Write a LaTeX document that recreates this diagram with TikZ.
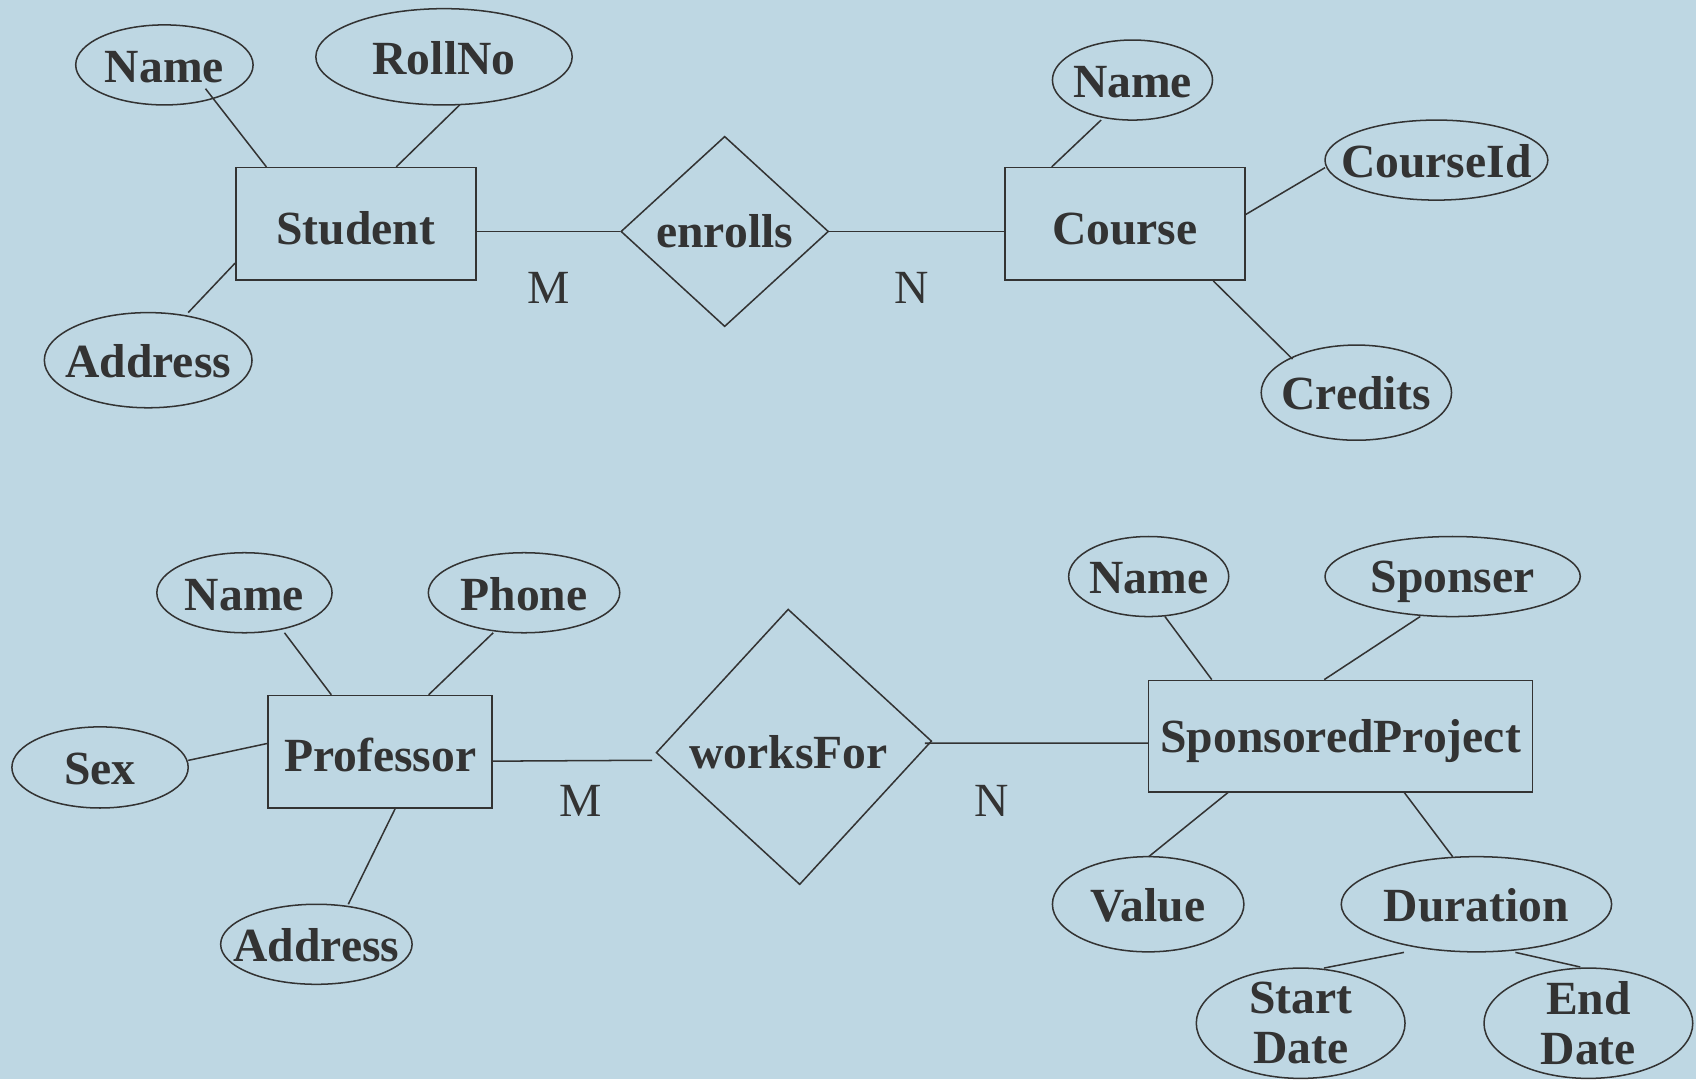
\documentclass[tikz,border=0pt]{standalone}
\usepackage{fontspec}
\setmainfont{Liberation Serif}
\usetikzlibrary{shapes.geometric,calc}
\definecolor{erbg}{RGB}{190,215,227}
\definecolor{erink}{RGB}{51,51,51}

\begin{document}
\begin{tikzpicture}[x=0.5pt,y=-0.5pt,
  every node/.style={text=erink,font=\fontsize{22}{23}\selectfont\bfseries},
  attr/.style={ellipse,draw=erink,line width=0.7pt,inner xsep=-60pt,inner ysep=-4pt,
    text height=16pt,text depth=0pt},
  attrtwo/.style={ellipse,draw=erink,line width=0.7pt,inner xsep=-60pt,inner ysep=-4pt,align=center},
  ent/.style={rectangle,draw=erink,line width=0.7pt,inner sep=0pt,text height=19pt,text depth=0pt},
  rel/.style={diamond,draw=erink,line width=0.7pt,inner sep=0pt},
  card/.style={font=\fontsize{22}{23}\selectfont},
  link/.style={draw=erink,line width=0.7pt}]
   \fill[erbg] (0,0) rectangle (1568,998);
   \useasboundingbox (0,0) rectangle (1568,998);

   % student -- enrolls -- course
   \node[ent,minimum width=111pt,minimum height=52pt] (student) at (329,207) {Student};
   \node[attr,minimum width=82pt,minimum height=37pt] (sname) at (152,60) {Name};
   \node[attr,minimum width=118.5pt,minimum height=44.5pt] (sroll) at (410.5,52.5) {RollNo};
   \node[attr,minimum width=96pt,minimum height=44pt] (saddr) at (137,333) {Address};
   \node[rel,minimum width=96pt,minimum height=88pt,text height=15pt,text depth=0pt] (enrolls) at (670,214) {enrolls};
   \node[ent,minimum width=111pt,minimum height=52pt] (course) at (1040,207) {Course};
   \node[attr,minimum width=74pt,minimum height=37pt] (cname) at (1047,74) {Name};
   \node[attr,minimum width=103pt,minimum height=37pt] (cid) at (1328,148) {CourseId};
   \node[attr,minimum width=88pt,minimum height=44pt] (ccred) at (1254,363) {Credits};
   \node[card] (mtop) at (507,266) {M};
   \node[card] (ntop) at (843,266) {N};

   \draw[link] ($(sname)+(38,22)$) -- ($(student.north west)+(29,0)$);
   \draw[link] ($(sroll)+(14.5,44.5)$) -- ($(student.north west)+(149,0)$);
   \draw[link] ($(saddr)+(37,-44)$) -- ($(student.north west)+(0,89)$);
   \draw[link] (enrolls.west -| student.east) -- (enrolls.west);
   \draw[link] (enrolls.east) -- (enrolls.east -| course.west);
   \draw[link] ($(cname)+(-29,37)$) -- ($(course.north west)+(44,0)$);
   \draw[link] ($(cid)+(-103,7)$) -- ($(course.north east)+(0,44)$);
   \draw[link] ($(ccred)+(-59,-31)$) -- ($(course.south east)+(-30,0)$);

   % professor -- worksFor -- sponsored project
   \node[ent,minimum width=103.5pt,minimum height=52pt,text height=18pt] (professor) at (351.5,695) {Professor};
   \node[attr,minimum width=81pt,minimum height=37pt] (pname) at (226,548) {Name};
   \node[attr,minimum width=88.5pt,minimum height=37pt] (pphone) at (484.5,548) {Phone};
   \node[attr,minimum width=81.5pt,minimum height=37.5pt] (psex) at (92.5,709.5) {Sex};
   \node[attr,minimum width=88.5pt,minimum height=37pt] (paddr) at (292.5,873) {Address};
   \node[rel,rotate=2.4,minimum width=127.5pt,minimum height=127.5pt] (worksfor) at (734,690.5) {};
   \node[text height=15pt,text depth=0pt] (wftext) at ($(worksfor)+(-5,5)$) {worksFor};
   \node[ent,minimum width=177.5pt,minimum height=51.5pt,text height=15.5pt] (sponsored) at (1239.5,680.5) {SponsoredProject};
   \node[attr,minimum width=74pt,minimum height=37pt] (spname) at (1062,533) {Name};
   \node[attr,minimum width=118pt,minimum height=37pt,text height=15pt] (sponser) at (1343,533) {Sponser};
   \node[attr,minimum width=88.5pt,minimum height=44pt] (value) at (1061.5,836) {Value};
   \node[attr,minimum width=125pt,minimum height=44pt] (duration) at (1365,836) {Duration};
   \node[attrtwo,minimum width=96.5pt,minimum height=51pt] (startdate) at (1202.5,946) {Start\\Date};
   \node[attrtwo,minimum width=96.5pt,minimum height=51pt] (enddate) at (1468.5,946) {End\\Date};
   \node[card] (mbot) at (537,740) {M};
   \node[card] (nbot) at (917,740) {N};

   \draw[link] ($(pname)+(37,37)$) -- ($(professor.north west)+(59,0)$);
   \draw[link] ($(pphone)+(-28.5,37)$) -- ($(professor.north west)+(149,0)$);
   \draw[link] ($(psex)+(81.5,-6.5)$) -- ($(professor.north west)+(0,45)$);
   \draw[link] ($(paddr)+(29.5,-37)$) -- ($(professor.south west)+(118,0)$);
   \draw[link] ($(professor.south east)+(0,-44)$) -- ($(worksfor.west)+(-3,7)$);
   \draw[link] ($(worksfor.east)+(-7,2)$) -- ($(sponsored.west)+(0,6.5)$);
   \draw[link] ($(spname)+(15,37)$) -- ($(sponsored.north west)+(59,0)$);
   \draw[link] ($(sponser)+(-30,37)$) -- ($(sponsored.north west)+(163,0)$);
   \draw[link] ($(value)+(0.5,-44)$) -- ($(sponsored.south west)+(74,0)$);
   \draw[link] ($(duration)+(-22,-44)$) -- ($(sponsored.south west)+(237,0)$);
   \draw[link] ($(startdate)+(21.5,-51)$) -- ($(duration)+(-67,44.5)$);
   \draw[link] ($(enddate)+(-7.5,-52)$) -- ($(duration)+(36,44.5)$);
\end{tikzpicture}
\end{document}
